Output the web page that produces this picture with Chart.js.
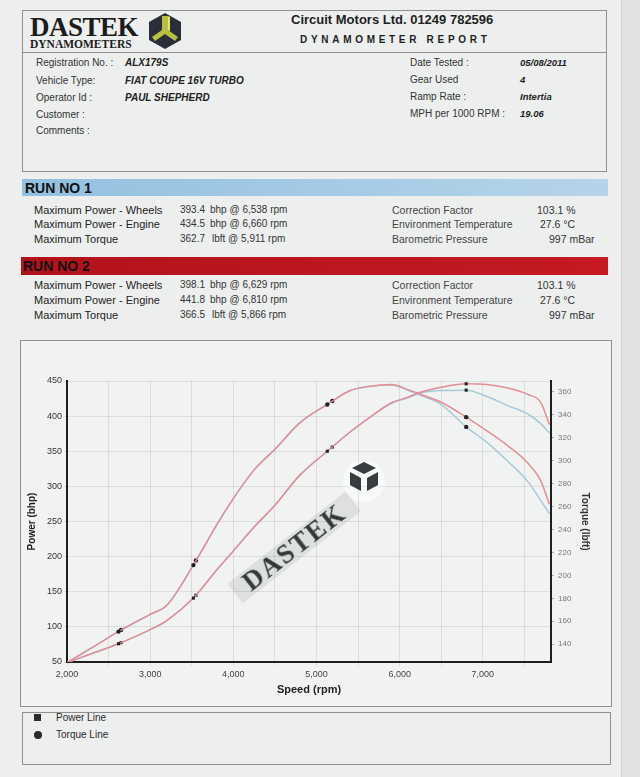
<!DOCTYPE html>
<html><head><meta charset="utf-8">
<script src="https://cdn.jsdelivr.net/npm/chart.js@4.4.1/dist/chart.umd.min.js"></script>
<style>
html,body{margin:0;padding:0;}
body{width:640px;height:777px;position:relative;overflow:hidden;background:#edefee;font-family:"Liberation Sans",Arial,sans-serif;color:#2a2a2a;}
.a{position:absolute;white-space:nowrap;line-height:1;}
.box{position:absolute;border:1px solid #8e9090;box-sizing:border-box;}
</style></head><body>
<div class="a" style="left:621px;top:0;width:19px;height:777px;background:#e1e3e2;border-left:1px solid #cfd1d0;"></div>

<!-- header -->
<div class="box" style="left:22px;top:10px;width:585px;height:162px;"></div>
<div class="a" style="left:22px;top:52px;width:585px;height:1px;background:#8e9090;"></div>
<div class="a" style="left:30px;top:14px;font-family:'Liberation Serif',serif;font-weight:bold;font-size:27px;letter-spacing:-0.5px;color:#1c1c1c;">DASTEK</div>
<div class="a" style="left:30px;top:39px;font-family:'Liberation Serif',serif;font-weight:bold;font-size:11.5px;color:#1c1c1c;">DYNAMOMETERS</div>
<svg class="a" style="left:148px;top:12px;" width="34" height="38" viewBox="0 0 34 38">
  <polygon points="17,1 33,10 33,28 17,37 1,28 1,10" fill="#2b2e3a"/>
  <polygon points="14,4 20,4 20,18 30,25 27,29 17,22 7,29 4,25 14,18" fill="#b9c040"/>
  <polygon points="20,4 22,5 22,19 20,18" fill="#e2e67a"/>
</svg>
<div class="a" style="left:291px;top:13px;font-weight:bold;font-size:13px;color:#1e1e1e;">Circuit Motors Ltd. 01249 782596</div>
<div class="a" style="left:300px;top:35px;font-weight:bold;font-size:10px;letter-spacing:3.7px;color:#1e1e1e;">DYNAMOMETER REPORT</div>

<div id="txt"></div>

<!-- chart box -->
<div class="box" id="cbox" style="left:20px;top:340px;width:592px;height:367px;background:#f1f3f2;">
  <div class="a" style="left:198px;top:194px;width:150px;height:25px;background:rgba(205,208,208,0.55);transform:rotate(-38deg);transform-origin:75px 12px;filter:blur(0.6px);">
    <div style="font-family:'Liberation Serif',serif;font-weight:bold;font-size:27px;letter-spacing:2px;color:#35383a;text-align:center;line-height:25px;">DASTEK</div>
  </div>
  <svg class="a" style="left:320px;top:117px;filter:blur(0.6px);" width="46" height="46" viewBox="0 0 46 46">
    <circle cx="23" cy="23" r="21" fill="#f8f9f9"/>
    <polygon points="23,4 35,10 23,16 11,10" fill="#3a3d40"/>
    <polygon points="9,14 20,20 20,33 9,27" fill="#3a3d40"/>
    <polygon points="37,14 26,20 26,33 37,27" fill="#3a3d40"/>
  </svg>
  <canvas id="c" width="592" height="366" style="position:absolute;left:0;top:0;width:592px;height:366px;"></canvas>
</div>

<!-- legend -->
<div class="box" style="left:22px;top:712px;width:589px;height:53px;"></div>
<div class="a" style="left:34px;top:714px;width:7px;height:7px;background:#2a2a2a;"></div>
<div class="a" style="left:56px;top:713px;font-size:10px;">Power Line</div>
<div class="a" style="left:34px;top:731px;width:8px;height:8px;border-radius:50%;background:#2a2a2a;"></div>
<div class="a" style="left:56px;top:730px;font-size:10px;">Torque Line</div>

<script>
// ---- report text ----
const headerLeftLabels = ["Registration No. :", "Vehicle Type:", "Operator Id :", "Customer :", "Comments :"];
const headerLeftValues = ["ALX179S", "FIAT COUPE 16V TURBO", "PAUL SHEPHERD", "", ""];
const headerRightLabels = ["Date Tested :", "Gear Used", "Ramp Rate :", "MPH per 1000 RPM :"];
const headerRightValues = ["05/08/2011", "4", "Intertia", "19.06"];
const runLabels = ["Maximum Power - Wheels", "Maximum Power - Engine", "Maximum Torque"];
const run1Values = ["393.4", "434.5", "362.7"];
const run1Units = ["bhp @ 6,538 rpm", "bhp @ 6,660 rpm", "lbft @ 5,911 rpm"];
const run2Values = ["398.1", "441.8", "366.5"];
const run2Units = ["bhp @ 6,629 rpm", "bhp @ 6,810 rpm", "lbft @ 5,866 rpm"];
const envLabels = ["Correction Factor", "Environment Temperature", "Barometric Pressure"];
const envValues = ["103.1 %", "27.6 °C", "997 mBar"];

// ---- chart data ----
const rpmRun1    = [2000,2300,2650,3000,3200,3550,3800,4000,4250,4500,4800,5190,5400,5650,5900,6100,6250,6500,6800,7050,7300,7540,7700,7800];
const powerRun1  = [49,62,77.5,96,109,145,181,208,242,273,316,356,377,399,418,426,433,436.5,437,428,415,403,389,376];
const torqueRun1 = [124,137,152.5,166,174,213,244,267,292,310,333,352,361,365,366,361.5,357,349,329.5,316,299.5,282,265,254];
const rpmRun2    = [2000,2300,2620,3000,3200,3520,3800,4000,4250,4500,4800,5130,5400,5650,5900,6100,6250,6500,6800,7050,7300,7540,7700,7800];
const powerRun2  = [49,62,76,96,109,141,181,208,242,273,316,350,377,399,419,427,434,441,446,445,440,431,419,388];
const torqueRun2 = [124,137,151,166,174,209,244,267,292,310,333,349,361,365,366.5,362,358,351,338,326,313,298,282,262];
const markersRun1 = [2650,3550,5190,6800];
const markersRun2 = [2620,3520,5130,6800];
const rpmGrid = [2000,2500,3000,3500,4000,4500,5000,5500,6000,6500,7000,7500];
const powerTicks = [50,100,150,200,250,300,350,400,450];
const torqueTicks = [140,160,180,200,220,240,260,280,300,320,340,360];

// build text
const T = document.getElementById('txt');
function put(x, y, s, st) { const d = document.createElement('div'); d.className = 'a'; d.textContent = s; d.style.left = x + 'px'; d.style.top = y + 'px'; d.style.cssText += st || ''; T.appendChild(d); return d; }
const hRowsL = [58, 76, 93, 110, 126];
headerLeftLabels.forEach((s, i) => { put(36, hRowsL[i], s, 'font-size:10px;color:#333;'); if (headerLeftValues[i]) put(125, hRowsL[i], headerLeftValues[i], 'font-size:10px;font-style:italic;font-weight:bold;color:#222;'); });
const hRowsR = [58, 75, 92, 109];
headerRightLabels.forEach((s, i) => { put(410, hRowsR[i], s, 'font-size:10px;color:#333;'); put(520, hRowsR[i], headerRightValues[i], 'font-size:9.5px;font-style:italic;font-weight:bold;color:#222;'); });

// run bars
put(22, 179, '', 'width:586px;height:17px;background:linear-gradient(90deg,#93c0e0,#b5d4ea);');
put(25, 181, 'RUN NO 1', 'font-size:14px;font-weight:bold;color:#111;');
put(21, 257, '', 'width:587px;height:18px;background:linear-gradient(90deg,#b3121b,#c41a22);');
put(23, 259, 'RUN NO 2', 'font-size:14px;font-weight:bold;color:#111;');
function runRows(ys, vals, units) {
  ys.forEach((y, i) => {
    put(34, y, runLabels[i], 'font-size:11px;color:#222;');
    put(180, y, vals[i], 'font-size:10px;color:#333;');
    put(i === 2 ? 212 : 210, y, units[i], 'font-size:10px;color:#333;');
    put(392, y, envLabels[i], 'font-size:10.5px;color:#444;');
    put([537, 540, 549][i], y, envValues[i], 'font-size:10.5px;color:#333;');
  });
}
runRows([205, 219, 234], run1Values, run1Units);
runRows([280, 295, 310], run2Values, run2Units);

// ---- chart ----
function pts(xs, ys) { return xs.map((x, i) => ({x: x, y: ys[i]})); }
function radii(xs, marks) { return xs.map(x => marks.includes(x) ? 2.2 : 0); }
const run1Col = '#a9c9d8', run2Col = '#e28e95';
function ds(label, xs, ys, axis, col, shape, marks) {
  return {label: label, data: pts(xs, ys), yAxisID: axis, borderColor: col, borderWidth: 1.5,
    pointStyle: shape, pointRadius: radii(xs, marks), pointBackgroundColor: '#222', pointBorderColor: '#222', pointBorderWidth: 0,
    cubicInterpolationMode: 'monotone', fill: false};
}
new Chart(document.getElementById('c'), {
  type: 'line',
  data: {
    datasets: [
      // first dataset is drawn on top: run 2 (pink) over run 1 (blue)
      ds('Run 2 Power', rpmRun2, powerRun2, 'yP', run2Col, 'rect', markersRun2),
      ds('Run 2 Torque', rpmRun2, torqueRun2, 'yT', run2Col, 'circle', markersRun2),
      ds('Run 1 Power', rpmRun1, powerRun1, 'yP', run1Col, 'rect', markersRun1),
      ds('Run 1 Torque', rpmRun1, torqueRun1, 'yT', run1Col, 'circle', markersRun1)
    ]
  },
  options: {
    responsive: false, animation: false,
    layout: {padding: {top: 40, left: 0, right: 0, bottom: 0}},
    plugins: {legend: {display: false}, tooltip: {enabled: false}},
    scales: {
      x: {
        type: 'linear', min: 2000, max: 7820,
        afterBuildTicks: s => { s.ticks = rpmGrid.map(v => ({value: v})); },
        afterFit: s => { s.height = 45; },
        ticks: {autoSkip: false, maxRotation: 0, padding: 3, color: '#444', font: {family: 'Liberation Sans', size: 9},
          callback: v => (v % 1000 === 0 ? v.toLocaleString('en-US') : '')},
        grid: {color: 'rgba(0,0,0,0.085)', tickLength: 4},
        border: {color: '#1e1e1e', width: 2},
        title: {display: true, text: 'Speed (rpm)', color: '#222', font: {family: 'Liberation Sans', size: 11, weight: 'bold'}, padding: {top: 0, bottom: 10}}
      },
      yP: {
        position: 'left', min: 50, max: 450,
        afterBuildTicks: s => { s.ticks = powerTicks.map(v => ({value: v})); },
        afterFit: s => { s.width = 46; },
        ticks: {padding: 2, color: '#333', font: {family: 'Liberation Sans', size: 9}},
        grid: {color: 'rgba(0,0,0,0.085)', tickLength: 3},
        border: {color: '#1e1e1e', width: 2},
        title: {display: true, text: 'Power (bhp)', color: '#222', font: {family: 'Liberation Sans', size: 10, weight: 'bold'}, padding: {top: 5, bottom: 0}}
      },
      yT: {
        position: 'right', min: 124.5, max: 369.5,
        afterBuildTicks: s => { s.ticks = torqueTicks.map(v => ({value: v})); },
        afterFit: s => { s.width = 62; },
        ticks: {padding: 4, color: '#777', font: {family: 'Liberation Sans', size: 8}},
        grid: {drawOnChartArea: false, color: '#aaa', tickLength: 3},
        border: {color: '#1e1e1e', width: 2},
        title: {display: true, text: 'Torque (lbft)', color: '#333', font: {family: 'Liberation Sans', size: 10, weight: 'bold'}, padding: {top: 22, bottom: 0}}
      }
    }
  }
});
</script>
</body></html>
